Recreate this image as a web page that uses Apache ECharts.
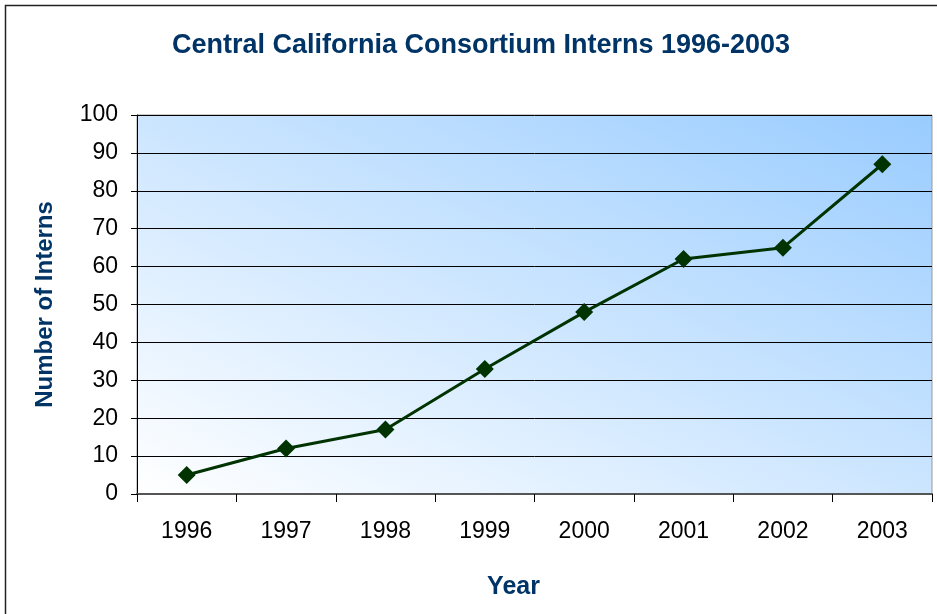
<!DOCTYPE html>
<html>
<head>
<meta charset="utf-8">
<script src="https://cdn.jsdelivr.net/npm/echarts@6/dist/echarts.min.js"></script>
<style>
  html, body { margin: 0; padding: 0; background: #fff; }
  #main { width: 937px; height: 614px; }
</style>
</head>
<body>
<div id="main"></div>
<script>
var years = ['1996', '1997', '1998', '1999', '2000', '2001', '2002', '2003'];
var interns = [5, 12, 17, 33, 48, 62, 65, 87];
var yTicks = [0, 100, 10];  // min, max, interval

(function(){
  var myChart = echarts.init(document.getElementById('main'));
  var navy = '#003366';
  var font = 'Liberation Sans, Arial, sans-serif';
  // plot area in pixels (grid)
  var L = 137, T = 115, R = 932, B = 494;
  var cx = (L + R) / 2, cy = (T + B) / 2, w = R - L, h = B - T;
  // gradient with isolines along the top-left/bottom-right diagonal (Excel style)
  var t = (w * h) / (h * h + w * w);
  var bg = new echarts.graphic.LinearGradient(
    cx - t * h, cy + t * w, cx + t * h, cy - t * w,
    [{ offset: 0, color: '#ffffff' }, { offset: 1, color: '#99ccff' }], true);

  var option = {
    animation: false,
    title: {
      text: 'Central California Consortium Interns 1996-2003',
      left: 476,
      textAlign: 'center',
      top: 27,
      textStyle: { color: navy, fontSize: 27, fontWeight: 'bold', fontFamily: font }
    },
    graphic: [{
      type: 'rect',
      shape: { x: 5.5, y: 5.5, width: 960, height: 640 },
      style: { fill: 'none', stroke: '#222', lineWidth: 1.5 },
      silent: true
    }],
    grid: {
      left: L, right: 937 - R, top: T, bottom: 614 - B,
      show: true,
      borderColor: '#999',
      borderWidth: 1,
      backgroundColor: bg
    },
    xAxis: {
      type: 'category',
      data: years,
      boundaryGap: true,
      name: 'Year',
      nameLocation: 'middle',
      nameGap: 81,
      nameTextStyle: { color: navy, fontSize: 25, fontWeight: 'bold', fontFamily: font, padding: [0, 42, 0, 0] },
      axisLine: { lineStyle: { color: '#555', width: 2 } },
      axisTick: { show: true, length: 8, lineStyle: { color: '#000', width: 1 } },
      axisLabel: { color: '#000', fontSize: 23, margin: 26, fontFamily: font }
    },
    yAxis: {
      type: 'value',
      min: yTicks[0],
      max: yTicks[1],
      interval: yTicks[2],
      name: 'Number of Interns',
      nameLocation: 'middle',
      nameGap: 80,
      nameTextStyle: { color: navy, fontSize: 24, fontWeight: 'bold', fontFamily: font },
      axisLine: { show: true, lineStyle: { color: '#000', width: 1 } },
      axisTick: { show: true, length: 6, lineStyle: { color: '#000' } },
      axisLabel: { color: '#000', fontSize: 23, margin: 19, fontFamily: font },
      splitLine: { show: true, lineStyle: { color: '#000', width: 1 } }
    },
    series: [{
      type: 'line',
      data: interns,
      symbol: 'diamond',
      symbolSize: [18, 18],
      lineStyle: { color: '#003300', width: 3 },
      itemStyle: { color: '#003300' }
    }]
  };
  myChart.setOption(option);
  window.addEventListener("resize", function() {
    myChart.resize();
  });
})();
</script>
</body>
</html>
